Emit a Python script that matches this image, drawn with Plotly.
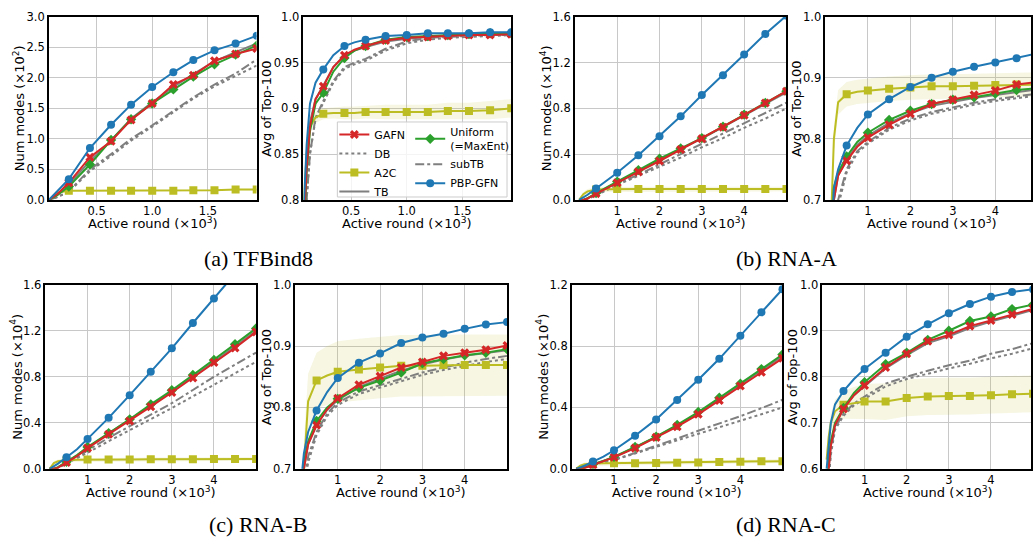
import plotly.graph_objects as go

W, H = 1033, 545

# ---------------- data ----------------
SERIES = ["DB", "subTB", "TB", "A2C", "Uniform", "GAFN", "PBP-GFN"]

# (a) TFBind8 - number of modes (x1e2)
TF_MODES_X = [0.07, 0.15, 0.25, 0.44, 0.63, 0.81, 1.0, 1.19, 1.37, 1.56, 1.75, 1.94]
TF_MODES = {
    "PBP-GFN": [0, 0.15, 0.34, 0.85, 1.23, 1.56, 1.85, 2.09, 2.29, 2.45, 2.56, 2.69],
    "Uniform": [0, 0.08, 0.22, 0.58, 0.98, 1.32, 1.58, 1.81, 2.02, 2.22, 2.38, 2.53],
    "GAFN":    [0, 0.10, 0.28, 0.70, 0.96, 1.31, 1.58, 1.89, 2.04, 2.28, 2.39, 2.48],
    "TB":      [0, 0.09, 0.25, 0.64, 0.97, 1.33, 1.60, 1.85, 2.06, 2.27, 2.42, 2.56],
    "subTB":   [0, 0.05, 0.14, 0.50, 0.75, 1.00, 1.22, 1.46, 1.68, 1.89, 2.07, 2.30],
    "DB":      [0, 0.05, 0.13, 0.47, 0.72, 0.97, 1.20, 1.43, 1.66, 1.86, 2.03, 2.20],
    "A2C":     [0, 0.12, 0.15, 0.15, 0.15, 0.15, 0.15, 0.15, 0.16, 0.16, 0.17, 0.17],
}
TF_MODES_A2C_SPREAD = [0, 0.01, 0.01, 0.01, 0.01, 0.01, 0.01, 0.01, 0.01, 0.01, 0.01, 0.01]

# (a) TFBind8 - avg of top-100
TF_TOP_X = [0.07, 0.1, 0.13, 0.18, 0.25, 0.34, 0.44, 0.53, 0.63, 0.81, 1.0, 1.19, 1.37, 1.56, 1.75, 1.94]
TF_TOP = {
    "PBP-GFN": [0.78, 0.86, 0.905, 0.928, 0.9425, 0.958, 0.968, 0.972, 0.975, 0.979, 0.980, 0.982, 0.982, 0.982, 0.983, 0.983],
    "Uniform": [0.75, 0.83, 0.875, 0.905, 0.917, 0.940, 0.955, 0.963, 0.968, 0.975, 0.978, 0.979, 0.980, 0.981, 0.982, 0.982],
    "GAFN":    [0.76, 0.835, 0.88, 0.910, 0.924, 0.945, 0.958, 0.964, 0.968, 0.974, 0.977, 0.978, 0.979, 0.980, 0.980, 0.981],
    "TB":      [0.76, 0.84, 0.885, 0.910, 0.925, 0.945, 0.957, 0.963, 0.967, 0.973, 0.976, 0.978, 0.979, 0.980, 0.980, 0.981],
    "subTB":   [0.72, 0.80, 0.85, 0.890, 0.908, 0.930, 0.945, 0.950, 0.954, 0.965, 0.973, 0.977, 0.978, 0.979, 0.980, 0.980],
    "DB":      [0.72, 0.80, 0.85, 0.888, 0.906, 0.928, 0.943, 0.948, 0.952, 0.963, 0.971, 0.975, 0.977, 0.978, 0.979, 0.980],
    "A2C":     [0.79, 0.85, 0.88, 0.890, 0.894, 0.895, 0.895, 0.895, 0.896, 0.896, 0.896, 0.896, 0.897, 0.897, 0.898, 0.900],
}
TF_TOP_A2C_SPREAD = [0.005, 0.006, 0.006, 0.006, 0.006, 0.006, 0.007, 0.007, 0.007, 0.008, 0.008, 0.008, 0.009, 0.009, 0.010, 0.010]

TF_MARK_X = [0.25, 0.44, 0.63, 0.81, 1.0, 1.19, 1.37, 1.56, 1.75, 1.94]

# RNA tasks - shared x grids
RNA_MODES_X = [0.1, 0.2, 0.3, 0.5, 0.75, 1.0, 1.5, 2.0, 2.5, 3.0, 3.5, 4.0, 4.5, 5.0]
RNA_TOP_X = [0.1, 0.15, 0.2, 0.3, 0.5, 0.75, 1.0, 1.5, 2.0, 2.5, 3.0, 3.5, 4.0, 4.5, 5.0]
RNA_MARK_X = [0.5, 1.0, 1.5, 2.0, 2.5, 3.0, 3.5, 4.0, 4.5, 5.0]

# (b) RNA-A
RNAA_MODES = {
    "PBP-GFN": [0, 0.02, 0.045, 0.10, 0.165, 0.237, 0.39, 0.556, 0.73, 0.917, 1.09, 1.27, 1.45, 1.61],
    "Uniform": [0, 0.0, 0.015, 0.06, 0.11, 0.16, 0.26, 0.36, 0.45, 0.54, 0.64, 0.745, 0.846, 0.95],
    "GAFN":    [0, 0.0, 0.012, 0.055, 0.10, 0.15, 0.245, 0.34, 0.44, 0.535, 0.635, 0.74, 0.846, 0.95],
    "TB":      [0, 0.0, 0.013, 0.057, 0.105, 0.155, 0.252, 0.35, 0.445, 0.535, 0.635, 0.738, 0.84, 0.94],
    "subTB":   [0, 0.0, 0.010, 0.045, 0.09, 0.14, 0.22, 0.31, 0.40, 0.49, 0.58, 0.67, 0.76, 0.85],
    "DB":      [0, 0.0, 0.008, 0.040, 0.085, 0.13, 0.21, 0.29, 0.37, 0.46, 0.54, 0.63, 0.71, 0.80],
    "A2C":     [0, 0.05, 0.075, 0.09, 0.093, 0.095, 0.095, 0.095, 0.095, 0.095, 0.095, 0.095, 0.095, 0.095],
}
RNAA_MODES_A2C_SPREAD = [0.01, 0.02, 0.02, 0.02, 0.02, 0.02, 0.02, 0.02, 0.02, 0.02, 0.02, 0.02, 0.02, 0.02]
RNAA_TOP = {
    "PBP-GFN": [0.55, 0.65, 0.72, 0.75, 0.789, 0.818, 0.84, 0.865, 0.885, 0.90, 0.91, 0.918, 0.925, 0.932, 0.94],
    "Uniform": [0.55, 0.65, 0.72, 0.745, 0.771, 0.795, 0.81, 0.831, 0.846, 0.857, 0.864, 0.868, 0.874, 0.88, 0.883],
    "GAFN":    [0.50, 0.60, 0.70, 0.74, 0.764, 0.787, 0.802, 0.823, 0.841, 0.857, 0.864, 0.872, 0.879, 0.889, 0.893],
    "TB":      [0.50, 0.62, 0.70, 0.74, 0.766, 0.79, 0.805, 0.826, 0.842, 0.854, 0.861, 0.867, 0.872, 0.877, 0.881],
    "subTB":   [0.40, 0.50, 0.62, 0.70, 0.75, 0.78, 0.795, 0.818, 0.833, 0.844, 0.852, 0.859, 0.865, 0.87, 0.874],
    "DB":      [0.40, 0.50, 0.60, 0.69, 0.745, 0.777, 0.792, 0.815, 0.83, 0.841, 0.849, 0.856, 0.862, 0.867, 0.871],
    "A2C":     [0.60, 0.70, 0.80, 0.86, 0.873, 0.877, 0.879, 0.882, 0.884, 0.886, 0.886, 0.887, 0.888, 0.889, 0.889],
}
RNAA_TOP_A2C_SPREAD = [0.01, 0.015, 0.02, 0.02, 0.02, 0.02, 0.02, 0.02, 0.02, 0.02, 0.02, 0.02, 0.02, 0.02, 0.02]

# (c) RNA-B
RNAB_MODES = {
    "PBP-GFN": [0, 0.02, 0.045, 0.10, 0.17, 0.26, 0.443, 0.64, 0.844, 1.047, 1.267, 1.48, 1.70, 1.91],
    "Uniform": [0, 0.0, 0.015, 0.062, 0.12, 0.19, 0.31, 0.43, 0.56, 0.683, 0.815, 0.945, 1.083, 1.22],
    "GAFN":    [0, 0.0, 0.010, 0.055, 0.11, 0.18, 0.30, 0.415, 0.54, 0.663, 0.79, 0.923, 1.05, 1.19],
    "TB":      [0, 0.0, 0.013, 0.060, 0.115, 0.185, 0.305, 0.425, 0.55, 0.675, 0.80, 0.93, 1.065, 1.20],
    "subTB":   [0, 0.0, 0.010, 0.050, 0.10, 0.16, 0.27, 0.37, 0.47, 0.57, 0.685, 0.80, 0.905, 1.01],
    "DB":      [0, 0.0, 0.008, 0.045, 0.09, 0.14, 0.24, 0.335, 0.43, 0.528, 0.63, 0.73, 0.83, 0.93],
    "A2C":     [0, 0.05, 0.065, 0.075, 0.078, 0.08, 0.08, 0.082, 0.083, 0.083, 0.084, 0.085, 0.085, 0.086],
}
RNAB_MODES_A2C_SPREAD = [0.01, 0.015, 0.015, 0.015, 0.015, 0.015, 0.015, 0.015, 0.015, 0.015, 0.015, 0.015, 0.015, 0.015]
RNAB_TOP = {
    "PBP-GFN": [0.55, 0.69, 0.725, 0.76, 0.795, 0.825, 0.848, 0.873, 0.888, 0.905, 0.914, 0.92, 0.928, 0.935, 0.939],
    "Uniform": [0.50, 0.65, 0.71, 0.745, 0.778, 0.80, 0.814, 0.832, 0.844, 0.857, 0.872, 0.879, 0.885, 0.889, 0.895],
    "GAFN":    [0.50, 0.63, 0.70, 0.74, 0.771, 0.797, 0.815, 0.837, 0.851, 0.865, 0.874, 0.884, 0.889, 0.894, 0.901],
    "TB":      [0.50, 0.63, 0.70, 0.74, 0.772, 0.796, 0.812, 0.833, 0.847, 0.86, 0.87, 0.878, 0.884, 0.889, 0.893],
    "subTB":   [0.45, 0.58, 0.67, 0.72, 0.76, 0.79, 0.808, 0.826, 0.836, 0.847, 0.857, 0.865, 0.873, 0.879, 0.884],
    "DB":      [0.45, 0.57, 0.66, 0.71, 0.755, 0.786, 0.804, 0.822, 0.832, 0.843, 0.853, 0.861, 0.868, 0.874, 0.879],
    "A2C":     [0.50, 0.60, 0.70, 0.81, 0.844, 0.852, 0.858, 0.862, 0.865, 0.868, 0.868, 0.869, 0.869, 0.869, 0.869],
}
RNAB_TOP_A2C_SPREAD = [0.03, 0.04, 0.045, 0.045, 0.045, 0.048, 0.05, 0.05, 0.05, 0.05, 0.05, 0.05, 0.05, 0.05, 0.05]

# (d) RNA-C
RNAC_MODES = {
    "PBP-GFN": [0, 0.01, 0.02, 0.047, 0.08, 0.121, 0.216, 0.322, 0.449, 0.58, 0.717, 0.868, 1.02, 1.17],
    "Uniform": [0, 0.0, 0.008, 0.030, 0.052, 0.078, 0.142, 0.21, 0.286, 0.37, 0.463, 0.555, 0.65, 0.745],
    "GAFN":    [0, 0.0, 0.005, 0.025, 0.050, 0.075, 0.135, 0.205, 0.275, 0.355, 0.445, 0.54, 0.63, 0.72],
    "TB":      [0, 0.0, 0.007, 0.028, 0.050, 0.077, 0.14, 0.208, 0.282, 0.365, 0.455, 0.548, 0.642, 0.735],
    "subTB":   [0, 0.005, 0.012, 0.030, 0.045, 0.061, 0.103, 0.148, 0.197, 0.248, 0.295, 0.343, 0.395, 0.45],
    "DB":      [0, 0.005, 0.012, 0.028, 0.043, 0.057, 0.10, 0.142, 0.184, 0.226, 0.268, 0.311, 0.356, 0.40],
    "A2C":     [0, 0.02, 0.03, 0.035, 0.036, 0.037, 0.037, 0.038, 0.04, 0.042, 0.044, 0.046, 0.05, 0.05],
}
RNAC_MODES_A2C_SPREAD = [0.005, 0.01, 0.012, 0.012, 0.012, 0.012, 0.012, 0.012, 0.012, 0.012, 0.012, 0.012, 0.012, 0.012]
RNAC_TOP = {
    "PBP-GFN": [0.60, 0.66, 0.70, 0.74, 0.769, 0.795, 0.817, 0.852, 0.887, 0.914, 0.938, 0.958, 0.974, 0.984, 0.99],
    "Uniform": [0.55, 0.62, 0.66, 0.70, 0.732, 0.765, 0.788, 0.827, 0.852, 0.88, 0.90, 0.921, 0.931, 0.947, 0.957],
    "GAFN":    [0.55, 0.60, 0.65, 0.695, 0.73, 0.76, 0.781, 0.82, 0.85, 0.877, 0.891, 0.91, 0.922, 0.935, 0.948],
    "TB":      [0.55, 0.60, 0.65, 0.695, 0.73, 0.76, 0.78, 0.818, 0.847, 0.873, 0.888, 0.906, 0.92, 0.932, 0.945],
    "subTB":   [0.50, 0.58, 0.64, 0.69, 0.72, 0.742, 0.757, 0.785, 0.80, 0.813, 0.825, 0.835, 0.85, 0.86, 0.873],
    "DB":      [0.50, 0.58, 0.63, 0.685, 0.715, 0.738, 0.752, 0.779, 0.795, 0.807, 0.818, 0.828, 0.84, 0.85, 0.862],
    "A2C":     [0.62, 0.67, 0.70, 0.725, 0.739, 0.743, 0.746, 0.746, 0.754, 0.757, 0.758, 0.758, 0.76, 0.762, 0.763],
}
RNAC_TOP_A2C_SPREAD = [0.02, 0.02, 0.02, 0.025, 0.03, 0.035, 0.038, 0.04, 0.04, 0.04, 0.04, 0.04, 0.04, 0.04, 0.04]

CAPTIONS = ["(a) TFBind8", "(b) RNA-A", "(c) RNA-B", "(d) RNA-C"]

# ---------------- style ----------------
STYLE = {
    "GAFN":    dict(color="#d62728", dash="solid", symbol="x"),
    "DB":      dict(color="#7f7f7f", dash="dot", symbol=None),
    "A2C":     dict(color="#bcbd22", dash="solid", symbol="square"),
    "TB":      dict(color="#7f7f7f", dash="solid", symbol=None),
    "Uniform": dict(color="#2ca02c", dash="solid", symbol="diamond"),
    "subTB":   dict(color="#7f7f7f", dash="dashdot", symbol=None),
    "PBP-GFN": dict(color="#1f77b4", dash="solid", symbol="circle"),
}
LABELS = {"Uniform": "Uniform<br>(=MaxEnt)"}
BAND_RGBA = "rgba(188,189,34,0.13)"

def px(x):
    return x / W

def py(y):
    return 1 - y / H

# panel definitions: pixel box, x range, y range, ticks
PANELS = [
    dict(box=(49, 10, 257, 198), xr=[0.071, 1.938], yr=[0, 3.0],
         xt=[0.5, 1.0, 1.5], xtt=["0.5", "1.0", "1.5"],
         yt=[0, 0.5, 1.0, 1.5, 2.0, 2.5, 3.0], ytt=["0.0", "0.5", "1.0", "1.5", "2.0", "2.5", "3.0"],
         ytitle="Num modes (×10<sup>2</sup>)", ytx=19,
         x=TF_MODES_X, data=TF_MODES, spread=TF_MODES_A2C_SPREAD, mark=TF_MARK_X),
    dict(box=(304, 10, 512, 198), xr=[0.071, 1.938], yr=[0.8, 1.0],
         xt=[0.5, 1.0, 1.5], xtt=["0.5", "1.0", "1.5"],
         yt=[0.8, 0.85, 0.9, 0.95, 1.0], ytt=["0.8", "0.85", "0.9", "0.95", "1.0"],
         ytitle="Avg of Top-100", ytx=267,
         x=TF_TOP_X, data=TF_TOP, spread=TF_TOP_A2C_SPREAD, mark=TF_MARK_X),
    dict(box=(576, 10, 788, 198), xr=[0, 5], yr=[0, 1.6],
         xt=[1, 2, 3, 4], xtt=["1", "2", "3", "4"],
         yt=[0, 0.4, 0.8, 1.2, 1.6], ytt=["0.0", "0.4", "0.8", "1.2", "1.6"],
         ytitle="Num modes (×10<sup>4</sup>)", ytx=547,
         x=RNA_MODES_X, data=RNAA_MODES, spread=RNAA_MODES_A2C_SPREAD, mark=RNA_MARK_X),
    dict(box=(827, 10, 1033, 198), xr=[0, 4.84], yr=[0.7, 1.0],
         xt=[1, 2, 3, 4], xtt=["1", "2", "3", "4"],
         yt=[0.7, 0.8, 0.9, 1.0], ytt=["0.7", "0.8", "0.9", "1.0"],
         ytitle="Avg of Top-100", ytx=798,
         x=RNA_TOP_X, data=RNAA_TOP, spread=RNAA_TOP_A2C_SPREAD, mark=RNA_MARK_X),
    dict(box=(45.5, 285, 256.6, 474), xr=[0, 5], yr=[0, 1.6],
         xt=[1, 2, 3, 4], xtt=["1", "2", "3", "4"],
         yt=[0, 0.4, 0.8, 1.2, 1.6], ytt=["0.0", "0.4", "0.8", "1.2", "1.6"],
         ytitle="Num modes (×10<sup>4</sup>)", ytx=16,
         x=RNA_MODES_X, data=RNAB_MODES, spread=RNAB_MODES_A2C_SPREAD, mark=RNA_MARK_X),
    dict(box=(296, 285, 508, 474), xr=[0, 5], yr=[0.7, 1.0],
         xt=[1, 2, 3, 4], xtt=["1", "2", "3", "4"],
         yt=[0.7, 0.8, 0.9, 1.0], ytt=["0.7", "0.8", "0.9", "1.0"],
         ytitle="Avg of Top-100", ytx=267,
         x=RNA_TOP_X, data=RNAB_TOP, spread=RNAB_TOP_A2C_SPREAD, mark=RNA_MARK_X),
    dict(box=(573, 285, 784, 474), xr=[0, 5], yr=[0, 1.2],
         xt=[1, 2, 3, 4], xtt=["1", "2", "3", "4"],
         yt=[0, 0.4, 0.8, 1.2], ytt=["0.0", "0.4", "0.8", "1.2"],
         ytitle="Num modes (×10<sup>4</sup>)", ytx=543,
         x=RNA_MODES_X, data=RNAC_MODES, spread=RNAC_MODES_A2C_SPREAD, mark=RNA_MARK_X),
    dict(box=(824, 285, 1033, 474), xr=[0, 4.95], yr=[0.6, 1.0],
         xt=[1, 2, 3, 4], xtt=["1", "2", "3", "4"],
         yt=[0.6, 0.7, 0.8, 0.9, 1.0], ytt=["0.6", "0.7", "0.8", "0.9", "1.0"],
         ytitle="Avg of Top-100", ytx=794,
         x=RNA_TOP_X, data=RNAC_TOP, spread=RNAC_TOP_A2C_SPREAD, mark=RNA_MARK_X),
]

FONT = "DejaVu Sans"
fig = go.Figure()
layout = dict(
    width=W, height=H, margin=dict(l=0, r=0, t=0, b=0),
    paper_bgcolor="white", plot_bgcolor="white",
    font=dict(family=FONT, size=12, color="black"),
    showlegend=True,
)
annotations = []

for i, p in enumerate(PANELS, start=1):
    xa, ya = f"x{i}", f"y{i}"
    l, t, r, b = p["box"]
    axis_common = dict(showline=True, linecolor="black", linewidth=1.5, mirror=True,
                       ticks="", showgrid=True, gridcolor="#c8c8c8", gridwidth=1,
                       zeroline=False, tickfont=dict(family=FONT, size=11.5))
    layout[f"xaxis{i}"] = dict(domain=[px(l), px(r)], anchor=ya, range=p["xr"],
                               tickvals=p["xt"], ticktext=p["xtt"], **axis_common)
    layout[f"yaxis{i}"] = dict(domain=[py(b), py(t)], anchor=xa, range=p["yr"],
                               tickvals=p["yt"], ticktext=p["ytt"], **axis_common)
    xs = p["x"]
    # A2C uncertainty band
    a2c = p["data"]["A2C"]
    up = [v + s for v, s in zip(a2c, p["spread"])]
    lo = [v - s for v, s in zip(a2c, p["spread"])]
    fig.add_trace(go.Scatter(x=xs + xs[::-1], y=up + lo[::-1], fill="toself",
                             fillcolor=BAND_RGBA, line=dict(width=0), mode="lines",
                             hoverinfo="skip", showlegend=False, xaxis=xa, yaxis=ya))
    for name in SERIES:
        st = STYLE[name]
        ys = p["data"][name]
        fig.add_trace(go.Scatter(x=xs, y=ys, mode="lines",
                                 line=dict(color=st["color"], width=2, dash=st["dash"]),
                                 showlegend=False, xaxis=xa, yaxis=ya))
        if st["symbol"]:
            mx = [xv for xv in xs if any(abs(xv - m) < 1e-9 for m in p["mark"])]
            my = [yv for xv, yv in zip(xs, ys) if any(abs(xv - m) < 1e-9 for m in p["mark"])]
            fig.add_trace(go.Scatter(x=mx, y=my, mode="markers",
                                     marker=dict(color=st["color"], symbol=st["symbol"], size=8,
                                                 line=dict(width=0)),
                                     showlegend=False, xaxis=xa, yaxis=ya))
    # axis titles
    annotations.append(dict(x=px(p["ytx"]), y=py((t + b) / 2), xref="paper", yref="paper",
                            text=p["ytitle"], textangle=-90, showarrow=False,
                            font=dict(family=FONT, size=13), xanchor="center", yanchor="middle"))
    annotations.append(dict(x=px((l + r) / 2) if i not in (4, 8) else px(l + (r - l) * 5 / p["xr"][1] / 2),
                            y=py(b + 24), xref="paper", yref="paper",
                            text="Active round (×10<sup>3</sup>)", showarrow=False,
                            font=dict(family=FONT, size=13), xanchor="center", yanchor="middle"))

# legend (two columns) in panel 2
LEG1 = ["GAFN", "DB", "A2C", "TB"]
LEG2 = ["Uniform", "subTB", "PBP-GFN"]
for group, leg in ((LEG1, "legend"), (LEG2, "legend2")):
    for name in group:
        st = STYLE[name]
        mode = "lines+markers" if st["symbol"] else "lines"
        kw = dict(marker=dict(color=st["color"], symbol=st["symbol"], size=8)) if st["symbol"] else {}
        fig.add_trace(go.Scatter(x=[None], y=[None], mode=mode, name=LABELS.get(name, name),
                                 line=dict(color=st["color"], width=2, dash=st["dash"]),
                                 legend=leg, xaxis="x2", yaxis="y2", **kw))

leg_common = dict(bgcolor="rgba(0,0,0,0)", borderwidth=0, font=dict(family=FONT, size=11),
                  itemwidth=30, tracegroupgap=0, xanchor="left", yanchor="top", traceorder="normal")
layout["legend"] = dict(x=px(335), y=py(116), **leg_common)
layout["legend2"] = dict(x=px(411), y=py(114), **leg_common)

shapes = [dict(type="rect", xref="paper", yref="paper", x0=px(338), x1=px(508), y0=py(195), y1=py(118),
               fillcolor="rgba(255,255,255,0.8)", line=dict(color="#cccccc", width=1), layer="above")]

# captions
for cap, (cx, cy) in zip(CAPTIONS, [(259, 258), (788, 258), (259, 531), (788, 531)]):
    annotations.append(dict(x=px(cx), y=py(cy), xref="paper", yref="paper", text=cap, showarrow=False,
                            font=dict(family="Liberation Serif", size=22, color="black"),
                            xanchor="center", yanchor="middle"))

layout["annotations"] = annotations
layout["shapes"] = shapes
fig.update_layout(**layout)
fig.write_html("out.html", config={"displayModeBar": False},
               post_script="document.body.style.margin='0px';document.body.style.overflow='hidden';")
